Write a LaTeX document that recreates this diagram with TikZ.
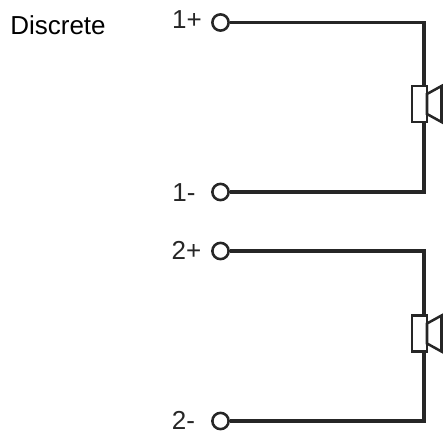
\documentclass[tikz,border=0pt]{standalone}
\usepackage{fontspec}
\setmainfont{Liberation Sans}
\tikzset{
    terminal/.style={circle, draw=black!85, line width=1.9pt, fill=white, minimum size=12.2pt, inner sep=0pt},
    termlabel/.style={font=\fontsize{19.5pt}{22pt}\selectfont, text=black!85, inner sep=0pt},
    wire/.style={draw=black!85, line width=2.5pt},
    cone/.style={draw=black!85, line width=1.9pt, fill=white, minimum width=11pt, minimum height=27pt, inner sep=0pt},
    horn/.style={draw=black!85, line width=1.9pt, line join=miter},
}
\begin{document}
\begin{tikzpicture}[x=0.75pt, y=-0.75pt]
    \useasboundingbox (0, 0) rectangle (443, 433);
    \node[termlabel, text=black] (title) at (58, 25) {Discrete};
    \node[termlabel] (l1p) at (187, 20) {1+};
    \node[termlabel] (l1m) at (184, 192.5) {1-};
    \node[termlabel] (l2p) at (186.5, 250) {2+};
    \node[termlabel] (l2m) at (183.5, 420) {2-};
    \coordinate (c1p) at (424, 22.5);
    \coordinate (c1m) at (424, 192);
    \coordinate (c2p) at (424, 251);
    \coordinate (c2m) at (424, 421);
    \node[cone] (s1) at (419.5, 104) {};
    \node[cone] (s2) at (419.5, 333.5) {};
    \node[terminal] (t1p) at (220.5, 22.5) {};
    \node[terminal] (t1m) at (220.5, 192) {};
    \node[terminal] (t2p) at (220.5, 251) {};
    \node[terminal] (t2m) at (220.5, 421) {};
    \draw[wire] (t1p) -- (c1p) -- (s1.north -| c1p);
    \draw[wire] (t1m) -- (c1m) -- (s1.south -| c1m);
    \draw[wire] (t2p) -- (c2p) -- (s2.north -| c2p);
    \draw[wire] (t2m) -- (c2m) -- (s2.south -| c2m);
    \draw[horn] (427, 94) -- (441.5, 86) -- (441.5, 122) -- (427, 114) -- cycle;
    \draw[horn] (427, 323.5) -- (441.5, 315.5) -- (441.5, 351.5) -- (427, 343.5) -- cycle;
\end{tikzpicture}
\end{document}
